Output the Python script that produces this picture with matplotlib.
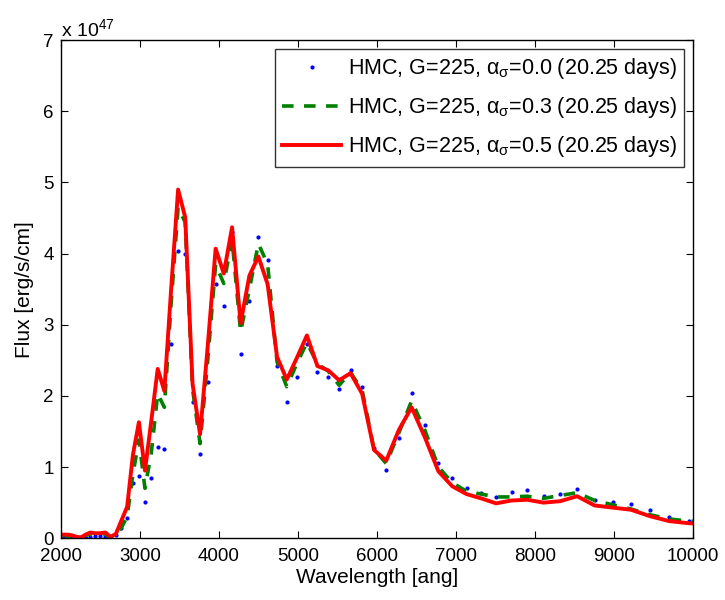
import matplotlib
matplotlib.use("Agg")
import matplotlib.pyplot as plt

plt.rcParams['font.family'] = ['Liberation Sans', 'DejaVu Sans']
plt.rcParams['mathtext.fontset'] = 'custom'
plt.rcParams['mathtext.rm'] = 'Liberation Sans'
plt.rcParams['mathtext.it'] = 'Liberation Sans:italic'

# wavelength grid [ang]
wave = [1983, 2035, 2087, 2141, 2197, 2254, 2312, 2372, 2434, 2497,
        2562, 2628, 2696, 2766, 2838, 2911, 2987, 3064, 3144, 3225,
        3309, 3395, 3483, 3573, 3666, 3761, 3858, 3958, 4061, 4166,
        4274, 4385, 4499, 4616, 4735, 4858, 4984, 5113, 5246, 5382,
        5521, 5665, 5812, 5962, 6117, 6276, 6438, 6605, 6777, 6952,
        7133, 7317, 7507, 7702, 7902, 8107, 8317, 8532, 8754, 8981,
        9214, 9453, 9698, 9949, 10207]

# flux in units of 1e47 erg/s/cm
flux_a00 = [0.02, 0.01, 0.00, 0.00, 0.00, 0.01, 0.00, 0.02, 0.03, 0.03,
            0.02, 0.00, 0.04, 0.145, 0.28, 0.78, 0.875, 0.51, 0.85, 1.28,
            1.26, 2.73, 4.04, 4.00, 1.91, 1.18, 2.19, 3.57, 3.26, 4.30,
            2.59, 3.33, 4.23, 3.91, 2.42, 1.92, 2.27, 2.73, 2.34, 2.27,
            2.10, 2.36, 2.12, 1.27, 0.96, 1.41, 2.04, 1.59, 1.06, 0.84,
            0.71, 0.64, 0.58, 0.65, 0.68, 0.59, 0.62, 0.69, 0.54, 0.51,
            0.48, 0.39, 0.30, 0.24, 0.22]

flux_a03 = [0.04, 0.04, 0.03, 0.02, 0.01, 0.01, 0.04, 0.06, 0.06, 0.06,
            0.06, 0.00, 0.03, 0.15, 0.30, 0.90, 1.38, 0.70, 1.20, 2.03,
            1.84, 3.30, 4.65, 4.44, 2.10, 1.33, 2.50, 3.85, 3.58, 4.20,
            2.90, 3.50, 4.14, 3.85, 2.48, 2.13, 2.45, 2.75, 2.45, 2.35,
            2.15, 2.33, 2.08, 1.25, 1.05, 1.48, 1.93, 1.52, 1.00, 0.78,
            0.66, 0.62, 0.58, 0.58, 0.59, 0.56, 0.60, 0.64, 0.53, 0.47,
            0.41, 0.33, 0.27, 0.24, 0.23]

flux_a05 = [0.05, 0.05, 0.05, 0.04, 0.02, 0.01, 0.05, 0.08, 0.07, 0.07,
            0.08, 0.02, 0.06, 0.25, 0.44, 1.17, 1.63, 0.95, 1.65, 2.38,
            2.07, 3.50, 4.90, 4.51, 2.17, 1.46, 2.70, 4.07, 3.72, 4.37,
            3.02, 3.69, 3.96, 3.57, 2.55, 2.23, 2.53, 2.85, 2.42, 2.36,
            2.22, 2.32, 2.03, 1.24, 1.09, 1.52, 1.84, 1.42, 0.94, 0.73,
            0.62, 0.56, 0.49, 0.53, 0.54, 0.50, 0.52, 0.59, 0.46, 0.43,
            0.40, 0.31, 0.24, 0.21, 0.20]

labels = [r"HMC, G=225, $\mathrm{\alpha}_\mathrm{\sigma}$=0.0 (20.25 days)",
          r"HMC, G=225, $\mathrm{\alpha}_\mathrm{\sigma}$=0.3 (20.25 days)",
          r"HMC, G=225, $\mathrm{\alpha}_\mathrm{\sigma}$=0.5 (20.25 days)"]

fig = plt.figure(figsize=(7.25, 6), dpi=100)
ax = fig.add_axes([0.084, 0.103, 0.872, 0.830])

ax.plot(wave, flux_a00, linestyle='none', marker='.', markersize=4,
        color='blue', label=labels[0])
ax.plot(wave, flux_a03, linestyle='--', dashes=(3.2, 2.9), linewidth=2.6,
        color=(0, 0.5, 0), label=labels[1])
ax.plot(wave, flux_a05, linestyle='-', linewidth=2.8, color='red',
        label=labels[2])

ax.set_xlim(2000, 10000)
ax.set_ylim(0, 7)
ax.set_xticks(range(2000, 10001, 1000))
ax.set_yticks(range(0, 8))
ax.tick_params(direction='in', top=True, right=True, labelsize=13.5,
               length=5, width=0.8)
ax.tick_params(axis='x', pad=7)
ax.tick_params(axis='y', pad=5)
for s in ax.spines.values():
    s.set_linewidth(1.0)

ax.set_xlabel("Wavelength [ang]", fontsize=15, labelpad=2)
ax.set_ylabel("Flux [erg/s/cm]", fontsize=15, labelpad=7)
fig.text(0.084, 0.933, r"x 10$^{47}$", fontsize=14, ha='left', va='bottom')

leg = ax.legend(loc='upper right', fontsize=15.5, handlelength=2.75,
                frameon=True, fancybox=False, edgecolor='black',
                borderaxespad=0.4, labelspacing=0.65, handletextpad=0.3,
                borderpad=0.35)
leg.get_frame().set_linewidth(1.0)

fig.savefig("out.png", dpi=100)
